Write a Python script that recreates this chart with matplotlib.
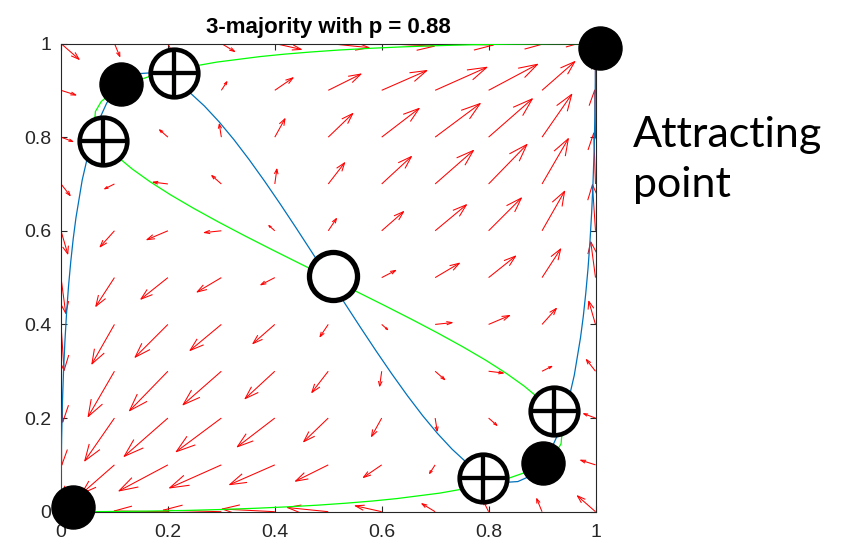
import numpy as np
import matplotlib
matplotlib.use('Agg')
import matplotlib.pyplot as plt
from matplotlib.collections import LineCollection

# grid of the direction field (same values on both axes)
grid_vals = [0.0, 0.1, 0.2, 0.3, 0.4, 0.5, 0.6, 0.7, 0.8, 0.9, 1.0]

# field components, rows = y (0 -> 1), columns = x (0 -> 1)
U = [
    [0.0000, -0.0781, -0.1180, -0.1277, -0.1155, -0.0896, -0.0580, -0.0291, -0.0110, -0.0118, -0.0397],
    [0.0004, -0.0720, -0.1073, -0.1135, -0.0990, -0.0718, -0.0401, -0.0122, 0.0038, -0.0002, -0.0325],
    [0.0017, -0.0652, -0.0960, -0.0989, -0.0822, -0.0539, -0.0223, 0.0045, 0.0183, 0.0109, -0.0259],
    [0.0038, -0.0577, -0.0842, -0.0840, -0.0652, -0.0360, -0.0045, 0.0210, 0.0324, 0.0214, -0.0200],
    [0.0067, -0.0495, -0.0720, -0.0687, -0.0480, -0.0180, 0.0131, 0.0372, 0.0460, 0.0314, -0.0148],
    [0.0104, -0.0408, -0.0592, -0.0531, -0.0306, 0.0000, 0.0306, 0.0531, 0.0592, 0.0408, -0.0104],
    [0.0148, -0.0314, -0.0460, -0.0372, -0.0131, 0.0180, 0.0480, 0.0687, 0.0720, 0.0495, -0.0067],
    [0.0200, -0.0214, -0.0324, -0.0210, 0.0045, 0.0360, 0.0652, 0.0840, 0.0842, 0.0577, -0.0038],
    [0.0259, -0.0109, -0.0183, -0.0045, 0.0223, 0.0539, 0.0822, 0.0989, 0.0960, 0.0652, -0.0017],
    [0.0325, 0.0002, -0.0038, 0.0122, 0.0401, 0.0718, 0.0990, 0.1135, 0.1073, 0.0720, -0.0004],
    [0.0397, 0.0118, 0.0110, 0.0291, 0.0580, 0.0896, 0.1155, 0.1277, 0.1180, 0.0781, 0.0000],
]
V = [
    [0.0000, 0.0004, 0.0017, 0.0038, 0.0067, 0.0104, 0.0148, 0.0200, 0.0259, 0.0325, 0.0397],
    [-0.0781, -0.0720, -0.0652, -0.0577, -0.0495, -0.0408, -0.0314, -0.0214, -0.0109, 0.0002, 0.0118],
    [-0.1180, -0.1073, -0.0960, -0.0842, -0.0720, -0.0592, -0.0460, -0.0324, -0.0183, -0.0038, 0.0110],
    [-0.1277, -0.1135, -0.0989, -0.0840, -0.0687, -0.0531, -0.0372, -0.0210, -0.0045, 0.0122, 0.0291],
    [-0.1155, -0.0990, -0.0822, -0.0652, -0.0480, -0.0306, -0.0131, 0.0045, 0.0223, 0.0401, 0.0580],
    [-0.0896, -0.0718, -0.0539, -0.0360, -0.0180, 0.0000, 0.0180, 0.0360, 0.0539, 0.0718, 0.0896],
    [-0.0580, -0.0401, -0.0223, -0.0045, 0.0131, 0.0306, 0.0480, 0.0652, 0.0822, 0.0990, 0.1155],
    [-0.0291, -0.0122, 0.0045, 0.0210, 0.0372, 0.0531, 0.0687, 0.0840, 0.0989, 0.1135, 0.1277],
    [-0.0110, 0.0038, 0.0183, 0.0324, 0.0460, 0.0592, 0.0720, 0.0842, 0.0960, 0.1073, 0.1180],
    [-0.0118, -0.0002, 0.0109, 0.0214, 0.0314, 0.0408, 0.0495, 0.0577, 0.0652, 0.0720, 0.0781],
    [-0.0397, -0.0325, -0.0259, -0.0200, -0.0148, -0.0104, -0.0067, -0.0038, -0.0017, -0.0004, 0.0000],
]

# nullclines
blue_x = [0, 0.0001, 0.0003, 0.0012, 0.0026, 0.0047, 0.0073, 0.0104, 0.014, 0.0182, 0.0228, 0.028,
          0.0397, 0.0533, 0.0686, 0.0855, 0.104, 0.1239, 0.1452, 0.1676, 0.1913, 0.216, 0.2417,
          0.2682, 0.2955, 0.3235, 0.352, 0.381, 0.4104, 0.4401, 0.47, 0.5,
          0.53, 0.5599, 0.5896, 0.619, 0.648, 0.6765, 0.7045, 0.7318, 0.7583, 0.784, 0.8087,
          0.8324, 0.8548, 0.8761, 0.896, 0.9145, 0.9314, 0.9467, 0.9603, 0.972, 0.9772, 0.9818,
          0.986, 0.9896, 0.9927, 0.9953, 0.9974, 0.9988, 0.9997, 0.9999, 1.0]
blue_y = [0, 0.0411, 0.0811, 0.158, 0.2306, 0.2991, 0.3635, 0.424, 0.4806, 0.5334, 0.5825, 0.628,
          0.7085, 0.7757, 0.8302, 0.8727, 0.904, 0.9247, 0.9356, 0.9373, 0.9305, 0.916, 0.8945,
          0.8666, 0.8331, 0.7947, 0.752, 0.7058, 0.6568, 0.6057, 0.5532, 0.5,
          0.4468, 0.3943, 0.3432, 0.2942, 0.248, 0.2053, 0.1669, 0.1334, 0.1055, 0.084, 0.0695,
          0.0627, 0.0644, 0.0753, 0.096, 0.1273, 0.1698, 0.2243, 0.2915, 0.372, 0.4175, 0.4666,
          0.5194, 0.576, 0.6365, 0.7009, 0.7694, 0.842, 0.9189, 0.9589, 1.0]
green_x = [0, 0.0411, 0.0811, 0.158, 0.2306, 0.2991, 0.3635, 0.424, 0.4806, 0.5334, 0.5825, 0.628,
           0.7085, 0.7757, 0.8302, 0.8727, 0.904, 0.9247, 0.9356, 0.9373, 0.9305, 0.916, 0.8945,
           0.8666, 0.8331, 0.7947, 0.752, 0.7058, 0.6568, 0.6057, 0.5532, 0.5,
           0.4468, 0.3943, 0.3432, 0.2942, 0.248, 0.2053, 0.1669, 0.1334, 0.1055, 0.084, 0.0695,
           0.0627, 0.0644, 0.0753, 0.096, 0.1273, 0.1698, 0.2243, 0.2915, 0.372, 0.4175, 0.4666,
           0.5194, 0.576, 0.6365, 0.7009, 0.7694, 0.842, 0.9189, 0.9589, 1.0]
green_y = [0, 0.0001, 0.0003, 0.0012, 0.0026, 0.0047, 0.0073, 0.0104, 0.014, 0.0182, 0.0228, 0.028,
           0.0397, 0.0533, 0.0686, 0.0855, 0.104, 0.1239, 0.1452, 0.1676, 0.1913, 0.216, 0.2417,
           0.2682, 0.2955, 0.3235, 0.352, 0.381, 0.4104, 0.4401, 0.47, 0.5,
           0.53, 0.5599, 0.5896, 0.619, 0.648, 0.6765, 0.7045, 0.7318, 0.7583, 0.784, 0.8087,
           0.8324, 0.8548, 0.8761, 0.896, 0.9145, 0.9314, 0.9467, 0.9603, 0.972, 0.9772, 0.9818,
           0.986, 0.9896, 0.9927, 0.9953, 0.9974, 0.9988, 0.9997, 0.9999, 1.0]

# fixed points as marked on the slide
stable_x = [0.022, 1.009, 0.113, 0.902]
stable_y = [0.010, 0.990, 0.913, 0.103]
saddle_x = [0.211, 0.079, 0.923, 0.789]
saddle_y = [0.938, 0.792, 0.215, 0.072]
unstable_x = [0.508]
unstable_y = [0.503]

tick_vals = [0, 0.2, 0.4, 0.6, 0.8, 1]
tick_labels = ['0', '0.2', '0.4', '0.6', '0.8', '1']
title_text = '3-majority with p = 0.88'
note_lines = ['Attracting', 'point']

W, H = 849, 542
fig = plt.figure(figsize=(W / 100, H / 100), dpi=100)
ax = fig.add_axes([61 / W, 30.3 / H, 534.5 / W, 468.2 / H])

# matlab style quiver: autoscale + open arrow heads
X, Y = np.meshgrid(grid_vals, grid_vals)
u = np.array(U)
v = np.array(V)
n = np.sqrt(X.size)
delx = (X.max() - X.min()) / n
dely = (Y.max() - Y.min()) / n
maxlen = np.sqrt((u ** 2 + v ** 2) / (delx ** 2 + dely ** 2)).max()
s = 0.9 / maxlen
u = u * s
v = v * s
alpha, beta = 0.33, 0.33
segs = []
for x0, y0, du, dv in zip(X.ravel(), Y.ravel(), u.ravel(), v.ravel()):
    tx, ty = x0 + du, y0 + dv
    segs.append([(x0, y0), (tx, ty)])
    segs.append([(tx - alpha * (du + beta * dv), ty - alpha * (dv - beta * du)), (tx, ty),
                 (tx - alpha * (du - beta * dv), ty - alpha * (dv + beta * du))])
ax.add_collection(LineCollection(segs, colors='#ff0000', linewidths=0.75, zorder=2))

ax.plot(blue_x, blue_y, color='#0072BD', lw=0.9, zorder=3)
ax.plot(green_x, green_y, color='#00ff00', lw=0.9, zorder=3)

ax.plot(stable_x, stable_y, 'o', ms=31, color='black', mec='black', zorder=6, clip_on=False)
ax.plot(saddle_x, saddle_y, 'o', ms=34.3, mfc='white', mec='black', mew=3.3, zorder=6, clip_on=False)
ax.plot(saddle_x, saddle_y, '+', ms=34.3, color='black', mew=3.1, zorder=7, clip_on=False)
ax.plot(unstable_x, unstable_y, 'o', ms=34.6, mfc='white', mec='black', mew=3.8, zorder=6, clip_on=False)

ax.set_xlim(0, 1)
ax.set_ylim(0, 1)
ax.set_xticks(tick_vals)
ax.set_xticklabels(tick_labels)
ax.set_yticks(tick_vals)
ax.set_yticklabels(tick_labels)
ax.tick_params(direction='in', length=4, width=0.8, top=True, right=True,
               colors='#262626', labelsize=14, labelfontfamily='Liberation Sans')
ax.tick_params(axis='x', pad=9)
ax.tick_params(axis='y', pad=7)
for sp in ax.spines.values():
    sp.set_color('#262626')
    sp.set_linewidth(0.8)

ax.text(0.5, 1 + 10.5 / 468.2, title_text, transform=ax.transAxes, ha='center', va='baseline',
        fontsize=16, fontweight='bold', family='Liberation Sans', color='black')

fig.text(633 / W, 1 - 146.7 / H, note_lines[0], ha='left', va='baseline', fontsize=31,
         family='Lato', color='black')
fig.text(633 / W, 1 - 196.7 / H, note_lines[1], ha='left', va='baseline', fontsize=31,
         family='Lato', color='black')

fig.savefig('out.png', dpi=100)
